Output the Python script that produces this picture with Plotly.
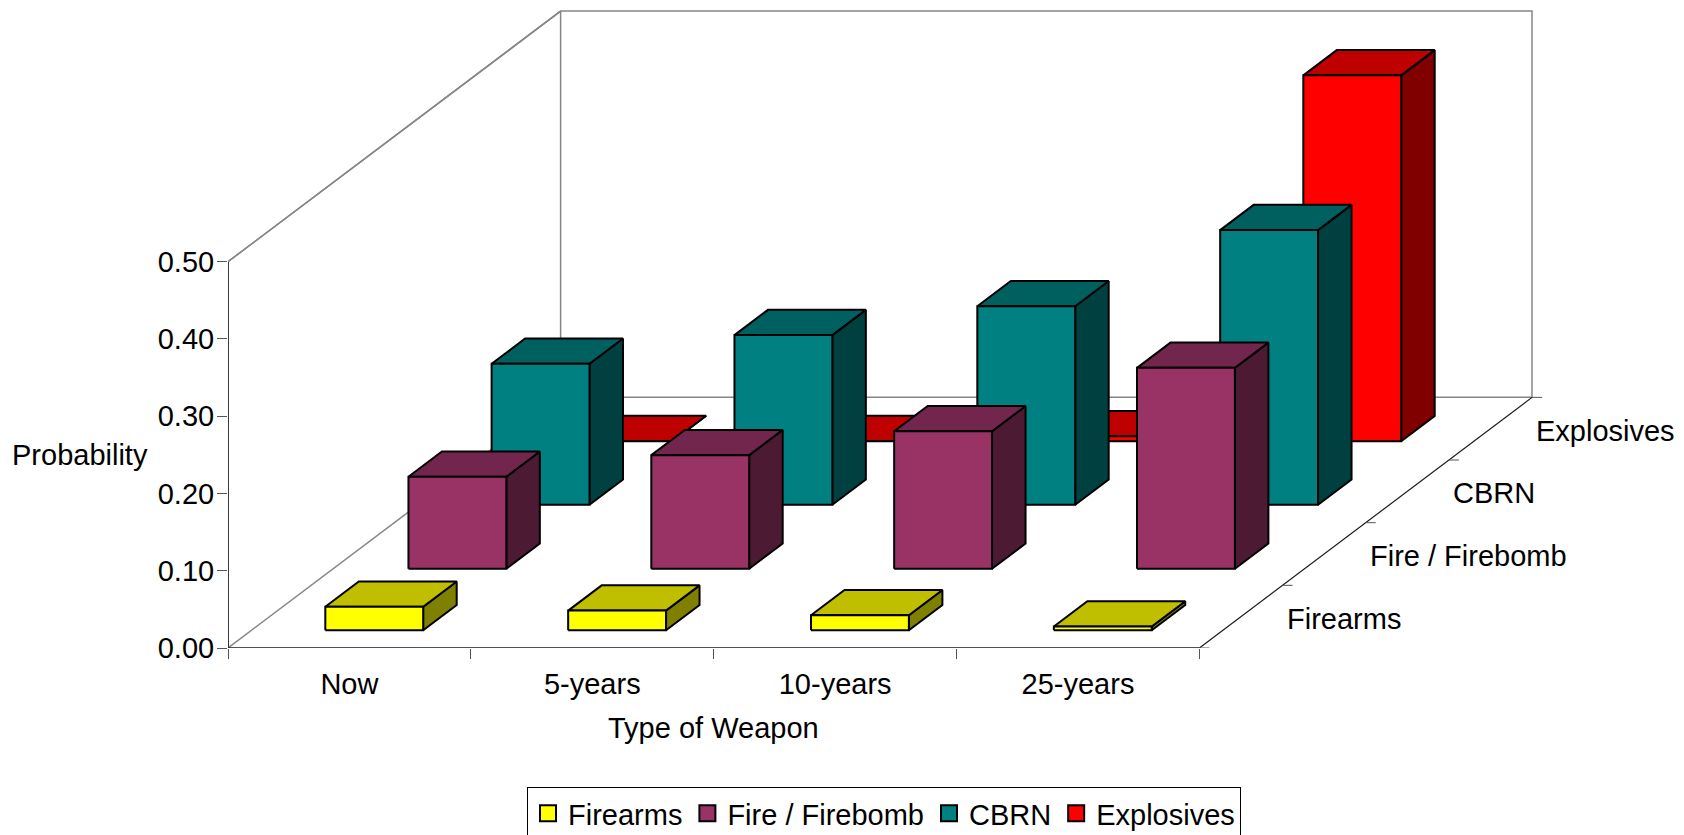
import plotly.graph_objects as go

# Survey estimates by horizon and weapon type
horizons = ["Now", "5-years", "10-years", "25-years"]
weapon_types = ["Firearms", "Fire / Firebomb", "CBRN", "Explosives"]
firearms = [0.0305, 0.0255, 0.0195, 0.005]
firebomb = [0.119, 0.147, 0.178, 0.26]
cbrn = [0.1825, 0.2196, 0.257, 0.3555]
explosives = [0.0005, 0.0005, 0.0065, 0.4737]
y_ticks = [0.0, 0.1, 0.2, 0.3, 0.4, 0.5]

front_colors = ["#FFFF00", "#993366", "#008080", "#FF0000"]
top_colors = ["#BFBF00", "#73264D", "#006060", "#BF0000"]
side_colors = ["#808000", "#4D1A33", "#004040", "#800000"]

# Oblique projection: one depth slab shifts a point along both axes
DEPTH_X = 0.3424
DEPTH_Y = 0.0811
BAR_HALF = 0.2015
WIDTH, HEIGHT = 1684, 835
PLOT_LEFT, PLOT_BOTTOM = 228, 648
PX_PER_CAT, PX_PER_UNIT = 242.85, 772.6
Y_MAX = 0.5
# Baseline drop of each row of bars, in pixels, from rounding of the floor grid
ROW_DROP = [1.0, 2.1, 0.8, 0.0]


def project(cat, depth, value):
    return cat + depth * DEPTH_X, value + depth * DEPTH_Y


def polygons(faces, drop):
    xs, ys = [], []
    for face in faces:
        pts = [project(*p) for p in face]
        pts.append(pts[0])
        xs += [p[0] for p in pts] + [None]
        ys += [p[1] - drop / PX_PER_UNIT for p in pts] + [None]
    return xs, ys


def line_trace(points, color, width):
    pts = [project(*p) for p in points]
    return go.Scatter(
        x=[p[0] for p in pts], y=[p[1] for p in pts], mode="lines",
        line=dict(color=color, width=width), showlegend=False,
        hoverinfo="skip", cliponaxis=False,
    )


fig = go.Figure()

# Back wall, floor edges and side wall
GRID = "#868686"
fig.add_trace(line_trace([(0, 0, Y_MAX), (0, 4, Y_MAX), (4, 4, Y_MAX), (4, 4, 0), (0, 4, 0), (0, 4, Y_MAX)], GRID, 1.5))
fig.add_trace(line_trace([(0, 0, 0), (0, 4, 0)], GRID, 1.5))

# Bars, furthest series first so nearer ones cover them
all_series = [firearms, firebomb, cbrn, explosives]
for s in range(3, -1, -1):
    z0, z1 = s + 0.5 - BAR_HALF, s + 0.5 + BAR_HALF
    tops, sides, fronts = [], [], []
    for c, v in enumerate(all_series[s]):
        x0, x1 = c + 0.5 - BAR_HALF, c + 0.5 + BAR_HALF
        sides.append([(x1, z0, 0), (x1, z1, 0), (x1, z1, v), (x1, z0, v)])
        tops.append([(x0, z0, v), (x1, z0, v), (x1, z1, v), (x0, z1, v)])
        fronts.append([(x0, z0, 0), (x1, z0, 0), (x1, z0, v), (x0, z0, v)])
    for faces, fill in ((sides, side_colors[s]), (tops, top_colors[s]), (fronts, front_colors[s])):
        xs, ys = polygons(faces, ROW_DROP[s])
        fig.add_trace(go.Scatter(
            x=xs, y=ys, mode="lines", fill="toself", fillcolor=fill,
            line=dict(color="#000000", width=2), showlegend=False,
            hoverinfo="skip", cliponaxis=False,
        ))

# Axis lines of the box
fig.add_trace(line_trace([(0, 0, 0), (0, 0, Y_MAX)], "#3a3a3a", 2))
fig.add_trace(line_trace([(0, 0, 0), (4, 0, 0)], "#1a1a1a", 1.5))
fig.add_trace(line_trace([(4, 0, 0), (4, 4, 0)], "#1a1a1a", 1.2))
fig.add_trace(line_trace([(0, 0, Y_MAX), (0, 4, Y_MAX)], GRID, 1.5))

# Depth axis ticks along the right floor edge
TICK_CAT = 10 / PX_PER_CAT
for k in range(5):
    fig.add_trace(line_trace([(4, k, 0), (4 + TICK_CAT, k, 0)], "#555555", 1))

# Legend entries
for name, color in zip(weapon_types, front_colors):
    fig.add_trace(go.Scatter(
        x=[None], y=[None], mode="markers", name=name,
        marker=dict(symbol="square", size=19, color=color, line=dict(color="#000000", width=2)),
    ))

FONT = "Liberation Sans, Arial, sans-serif"
TEXT_SIZE = 29
PLOT_W = WIDTH - PLOT_LEFT

# Depth axis labels sit just right of the floor edge
for k, name in enumerate(weapon_types):
    px, py = project(4, k + 0.5, 0)
    fig.add_annotation(x=px, y=py, text=name, showarrow=False, xanchor="left", yanchor="middle",
                       xshift=44, yshift=-2, font=dict(family=FONT, size=TEXT_SIZE, color="#000000"))

fig.add_annotation(xref="x", yref="paper", x=2, y=-80 / PLOT_BOTTOM, text="Type of Weapon", showarrow=False,
                   xanchor="center", yanchor="middle", font=dict(family=FONT, size=TEXT_SIZE, color="#000000"))
fig.add_annotation(xref="paper", yref="y", x=-148 / PLOT_W, y=0.2495, text="Probability", showarrow=False,
                   xanchor="center", yanchor="middle", font=dict(family=FONT, size=TEXT_SIZE, color="#000000"))

fig.update_layout(
    width=WIDTH, height=HEIGHT, autosize=False,
    margin=dict(l=PLOT_LEFT, r=0, t=0, b=HEIGHT - PLOT_BOTTOM, pad=0, autoexpand=False),
    paper_bgcolor="#FFFFFF", plot_bgcolor="#FFFFFF",
    font=dict(family=FONT, size=TEXT_SIZE, color="#000000"),
    legend=dict(
        orientation="h", xref="paper", yref="paper",
        x=(884 - PLOT_LEFT) / PLOT_W, xanchor="center",
        y=(PLOT_BOTTOM - 787) / PLOT_BOTTOM, yanchor="top",
        bordercolor="#000000", borderwidth=1, bgcolor="#FFFFFF",
        font=dict(family=FONT, size=TEXT_SIZE, color="#000000"),
        itemsizing="trace",
    ),
    xaxis=dict(
        range=[0, PLOT_W / PX_PER_CAT], showgrid=False, zeroline=False, showline=False,
        tickmode="array", tickvals=[0.5, 1.5, 2.5, 3.5], ticktext=horizons, ticks="",
        ticklabelstandoff=16,
        minor=dict(tickmode="array", tickvals=[0, 1, 2, 3, 4], ticks="outside", ticklen=10,
                   tickcolor="#555555", tickwidth=1, showgrid=False),
        tickfont=dict(family=FONT, size=TEXT_SIZE, color="#000000"),
    ),
    yaxis=dict(
        range=[0, PLOT_BOTTOM / PX_PER_UNIT], showgrid=False, zeroline=False, showline=False,
        tickmode="array", tickvals=y_ticks, tickformat=".2f", ticks="outside", ticklen=10,
        ticklabelstandoff=-3,
        tickcolor="#555555", tickwidth=1,
        tickfont=dict(family=FONT, size=TEXT_SIZE, color="#000000"),
    ),
)

fig.write_html("out.html")
